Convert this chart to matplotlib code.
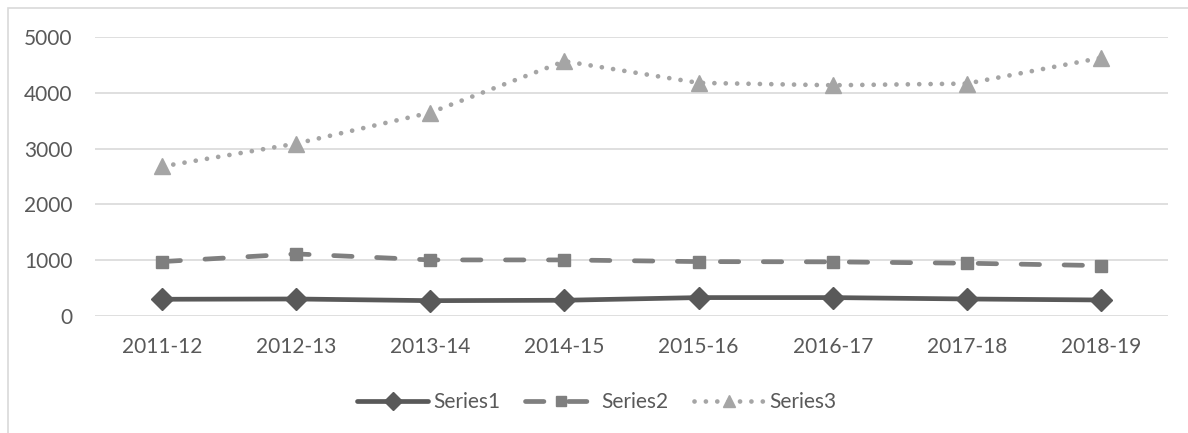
import matplotlib
matplotlib.use("Agg")
import matplotlib.pyplot as plt
from matplotlib.patches import Rectangle

categories = ["2011-12", "2012-13", "2013-14", "2014-15", "2015-16", "2016-17", "2017-18", "2018-19"]
series1 = [300, 305, 275, 282, 330, 330, 305, 287]
series2 = [975, 1113, 1005, 1005, 975, 970, 946, 903]
series3 = [2680, 3090, 3645, 4566, 4178, 4135, 4165, 4626]
yticks = [0, 1000, 2000, 3000, 4000, 5000]

plt.rcParams['font.family'] = ['Lato', 'DejaVu Sans']
W, H = 1188, 433
fig = plt.figure(figsize=(W / 100, H / 100), dpi=100)

# outer chart border
fig.patches.append(Rectangle((8 / W, -0.1), 1.2, (H - 8) / H + 0.1, transform=fig.transFigure,
                             fill=False, edgecolor="#d9d9d9", linewidth=1.2))

left, right, bottom, top = 95 / W, 1168 / W, (H - 316) / H, (H - 37) / H
ax = fig.add_axes([left, bottom, right - left, top - bottom])
x = list(range(len(categories)))

ax.plot(x, series1, color="#595959", linewidth=3.4, marker="D", markersize=11,
        label="Series1", solid_capstyle="round", zorder=3)
ax.plot(x, series2, color="#7f7f7f", linewidth=3.4, linestyle=(0, (3.9, 5.2)),
        dash_capstyle="round", marker="s", markersize=9, label="Series2", zorder=3)
ax.plot(x, series3, color="#a5a5a5", linewidth=3.4, linestyle=(0, (0.01, 2.4)),
        dash_capstyle="round", marker="^", markersize=11, label="Series3", zorder=3)

ax.set_xlim(-0.5, len(categories) - 0.5)
ax.set_ylim(0, 5000)
ax.set_yticks(yticks)
ax.set_xticks(x)
ax.set_xticklabels(categories)
ax.grid(axis="y", color="#d9d9d9", linewidth=1.2)
ax.set_axisbelow(True)
for s in ax.spines.values():
    s.set_visible(False)
ax.tick_params(axis="both", length=0, labelsize=15, labelcolor="#595959")
ax.tick_params(axis="y", pad=16)
ax.tick_params(axis="x", pad=15)

leg = fig.legend(loc="center", bbox_to_anchor=(597 / W, (H - 402) / H), ncol=3, frameon=False,
                 fontsize=15, handlelength=3.4, columnspacing=1.2, handletextpad=0.25,
                 markerscale=0.85)
for t in leg.get_texts():
    t.set_color("#595959")

fig.savefig("out.png", dpi=100)
